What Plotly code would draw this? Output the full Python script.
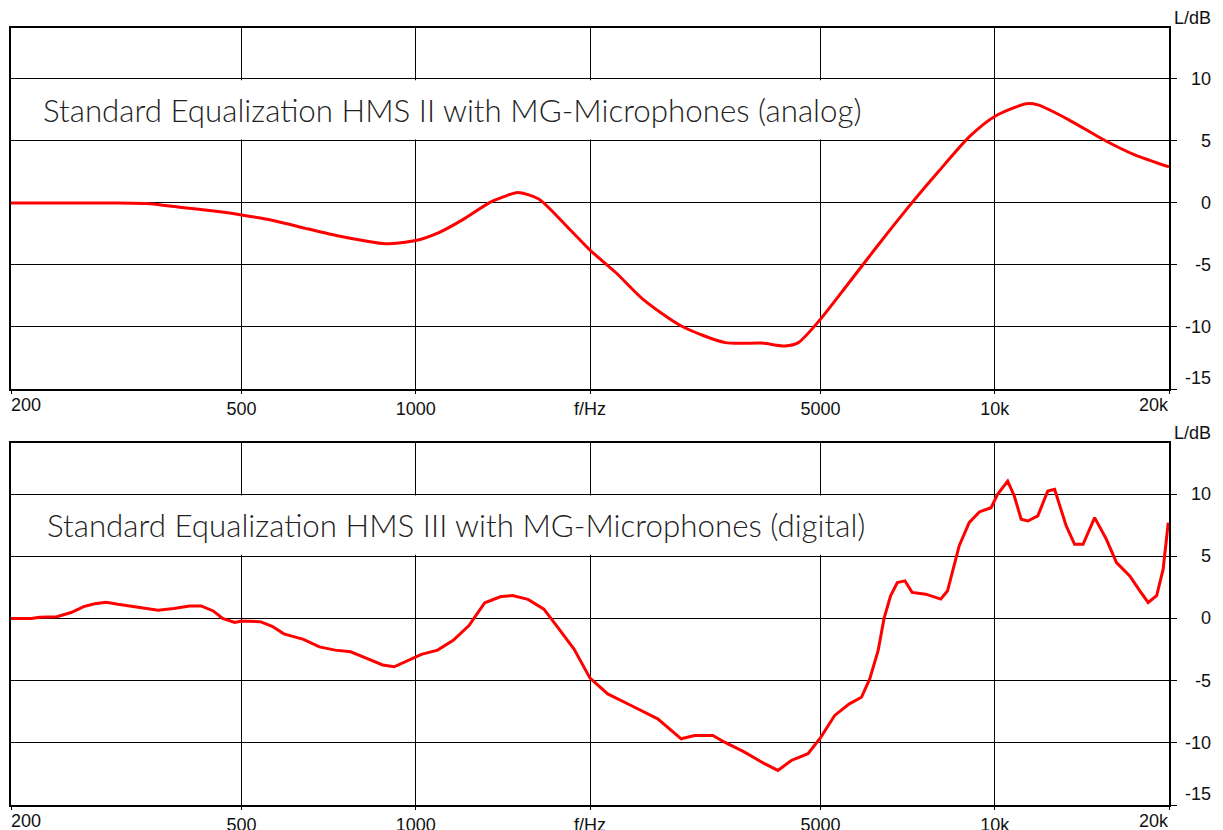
import math
import plotly.graph_objects as go

# ---------------- data ----------------
freq_analog = [200, 250, 300, 343, 391, 448, 500, 572, 645, 729, 811, 888, 1000, 1099, 1204,
               1339, 1420, 1500, 1631, 1842, 2000, 2218, 2470, 2876, 3425, 3960, 4341, 4580,
               5000, 5546, 6267, 7193, 8003, 9052, 10000, 11340, 11875, 13428, 15417, 17418, 20000]
level_analog = [0, 0, 0, -0.05, -0.34, -0.66, -0.97, -1.45, -2.05, -2.63, -3.03, -3.29, -3.03, -2.37, -1.37,
                0, 0.5, 0.84, 0.32, -2.1, -3.8, -5.63, -7.77, -9.92, -11.26, -11.3, -11.53, -11.26,
                -9.38, -6.7, -3.49, 0, 2.55, 5.36, 6.97, 7.99, 7.9, 6.7, 5.09, 3.89, 2.9]

freq_digital = [200, 217, 224, 240, 254, 267, 279, 292, 306, 332, 359, 382, 407, 426, 447, 464, 487, 500,
                539, 565, 592, 640, 682, 726, 772, 823, 877, 918, 962, 1023, 1091, 1161, 1236, 1316,
                1400, 1469, 1563, 1665, 1758, 1877, 2000, 2146, 2355, 2618, 2874, 3031, 3260, 3416,
                3699, 4004, 4223, 4453, 4759, 5000, 5292, 5610, 5887, 6083, 6290, 6440, 6610, 6790,
                6998, 7200, 7600, 8070, 8290, 8452, 8681, 9034, 9405, 9856, 10115, 10530, 10810,
                11110, 11410, 11870, 12350, 12690, 13290, 13740, 14210, 14880, 15590, 16230, 17110,
                17810, 18410, 19040, 19540, 19940]
level_digital = [0, 0, 0.1, 0.13, 0.47, 0.95, 1.18, 1.29, 1.13, 0.87, 0.66, 0.79, 1.0, 1.0, 0.6, 0, -0.32, -0.21,
                 -0.26, -0.63, -1.24, -1.68, -2.29, -2.55, -2.68, -3.21, -3.74, -3.89, -3.47, -2.89, -2.55, -1.76, -0.58, 1.26,
                 1.74, 1.84, 1.53, 0.74, -0.7, -2.46, -4.8, -6.07, -7.0, -8.07, -9.68, -9.41, -9.41, -9.95,
                 -10.75, -11.68, -12.22, -11.42, -10.88, -9.6, -7.8, -6.87, -6.34, -4.87, -2.6, 0, 1.82, 2.89,
                 3.02, 2.09, 1.95, 1.55, 2.22, 3.69, 5.83, 7.7, 8.56, 8.9, 9.97, 11.04, 9.84,
                 7.97, 7.83, 8.24, 10.24, 10.37, 7.43, 5.96, 5.96, 8.1, 6.36, 4.49, 3.42,
                 2.22, 1.28, 1.82, 3.96, 7.7]

titles = ["Standard Equalization HMS II with MG-Microphones (analog)",
          "Standard Equalization HMS III with MG-Microphones (digital)"]

x_tick_vals = [200, 500, 1000, 2000, 5000, 10000, 20000]
x_tick_text = ["", "500", "1000", "f/Hz", "5000", "10k", ""]
x_edge_labels = ["200", "20k"]
y_tick_vals = [-15, -10, -5, 0, 5, 10]
y_tick_text = ["-15", "-10", "-5", "0", "5", "10"]
y_label_pos = [-14.1, -10, -5, 0, 5, 10]
y_unit = "L/dB"

X_RANGE = [math.log10(200), math.log10(20000)]
Y_RANGE = [-15, 14.1]
LABEL_FONT = dict(family="Liberation Sans, Arial, sans-serif", size=18, color="#111")
TITLE_FONT = dict(family="Lato, sans-serif", size=31.3, color="#222", weight=300)

fig = go.Figure()
fig.add_trace(go.Scatter(x=freq_analog, y=level_analog, mode="lines",
                         line=dict(color="#ff0000", width=3, shape="spline", smoothing=0.7),
                         xaxis="x", yaxis="y", showlegend=False, hoverinfo="skip"))
fig.add_trace(go.Scatter(x=freq_digital, y=level_digital, mode="lines",
                         line=dict(color="#ff0000", width=3), xaxis="x2", yaxis="y2",
                         showlegend=False, hoverinfo="skip"))

# page body has an 8px margin: figure is 1215x822 so it ends at the window edge
W, H = 1215, 822
ML, MR, MT, MB = 3, 12, 20, 25
plot_w = W - ML - MR
plot_h = H - MT - MB
xdom = [0, 1158 / plot_w]
common_x = dict(type="log", range=X_RANGE, domain=xdom, tickmode="array",
                tickvals=x_tick_vals, ticktext=x_tick_text, ticks="outside", ticklen=3,
                tickcolor="black", showgrid=True, gridcolor="black", gridwidth=1.2,
                showline=True, linecolor="black", linewidth=1.5, mirror=True,
                tickfont=LABEL_FONT, zeroline=False, automargin=False)
common_y = dict(range=Y_RANGE, tickmode="array", tickvals=y_tick_vals, side="right",
                ticks="outside", ticklen=6, tickcolor="black", showticklabels=False,
                showgrid=True, gridcolor="black", gridwidth=1.2, zeroline=False,
                showline=True, linecolor="black", linewidth=1.5, mirror=True, automargin=False)

top_dom = [(plot_h - 361) / plot_h, 1]
bot_dom = [0, 362 / plot_h]

fig.update_layout(
    width=W, height=H,
    margin=dict(l=ML, r=MR, t=MT, b=MB, autoexpand=False),
    paper_bgcolor="white", plot_bgcolor="white",
    xaxis=dict(common_x, anchor="y"),
    xaxis2=dict(common_x, anchor="y2"),
    yaxis=dict(common_y, domain=top_dom, anchor="x"),
    yaxis2=dict(common_y, domain=bot_dom, anchor="x2"),
)

annotations = []
shapes = []
for i, (xa, ya) in enumerate([("x", "y"), ("x2", "y2")]):
    shapes.append(dict(type="rect", xref=f"{xa} domain", yref=ya, x0=0.002, x1=0.77,
                       y0=5.12, y1=9.88, fillcolor="white", line=dict(width=0), layer="above"))
    annotations.append(dict(text=titles[i], xref=f"{xa} domain", yref=ya,
                            x=(41 - 11) / 1158 if i == 0 else (45 - 11) / 1158, y=7.5,
                            xanchor="left", yanchor="middle", showarrow=False, font=TITLE_FONT))
    annotations.append(dict(text=x_edge_labels[0], xref=xa, yref=f"{ya} domain",
                            x=math.log10(x_tick_vals[0]), y=0, xanchor="left", yanchor="top",
                            yshift=-4, xshift=-2, showarrow=False, font=LABEL_FONT))
    annotations.append(dict(text=x_edge_labels[1], xref=xa, yref=f"{ya} domain",
                            x=math.log10(x_tick_vals[-1]), y=0, xanchor="right", yanchor="top",
                            yshift=-4, xshift=2, showarrow=False, font=LABEL_FONT))
    annotations.append(dict(text=y_unit, xref="paper", yref=f"{ya} domain",
                            x=1.0, y=1, xanchor="right", yanchor="bottom", yshift=-2, xshift=2,
                            showarrow=False, font=LABEL_FONT))
    for pos, txt in zip(y_label_pos, y_tick_text):
        annotations.append(dict(text=txt, xref="paper", yref=ya, x=1.0, y=pos,
                                xanchor="right", yanchor="middle", showarrow=False,
                                xshift=2, font=LABEL_FONT))

fig.update_layout(annotations=annotations, shapes=shapes)
fig.write_html("out.html")
